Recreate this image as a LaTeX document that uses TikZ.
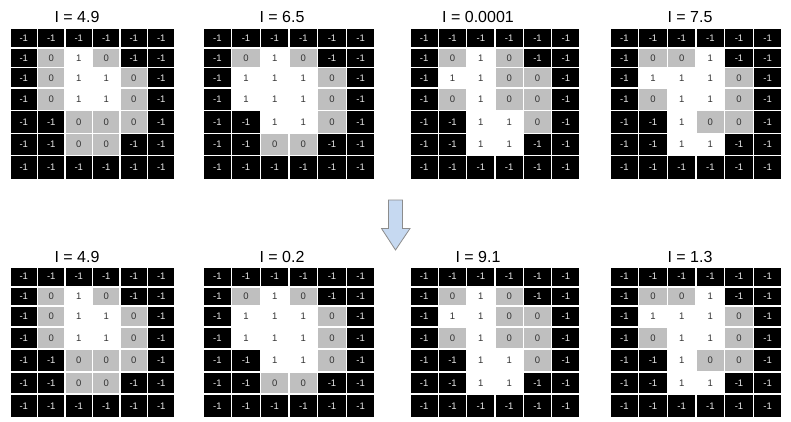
\documentclass[tikz,border=0pt]{standalone}
\usepackage{fontspec}
\setmainfont{Liberation Sans}

\definecolor{cellgray}{HTML}{BFBFBF}
\definecolor{celltext}{HTML}{333333}
\definecolor{negtext}{HTML}{E8E8E8}
\definecolor{arrowfill}{HTML}{C6D9F1}
\definecolor{arrowline}{HTML}{8C8C8C}

\tikzset{
  cell/.style={inner sep=0pt, outer sep=0pt, font=\fontsize{9.5}{11}\selectfont},
  gridtitle/.style={font=\fontsize{16}{19}\selectfont, text=black, inner sep=0pt},
  blockarrow/.style={fill=arrowfill, draw=arrowline, line width=0.8pt, line join=miter},
}

% lower edges of the seven rows, measured from the top of a grid
\def\rowedges{{0,20,39.5,60,82.5,105.5,127.5,151.5}}

% \valuegrid{name}{left}{top}{width}{rows}
\newcommand\valuegrid[5]{%
  \foreach \rowvals [count=\r] in #5 {%
    \foreach \v [count=\c] in \rowvals {%
      \pgfmathsetmacro\ytop{#3+\rowedges[\r-1]}%
      \pgfmathsetmacro\ybot{#3+\rowedges[\r]}%
      \pgfmathsetmacro\xl{#2+(\c-1)*#4/6}%
      \pgfmathsetmacro\xr{#2+\c*#4/6}%
      \pgfmathsetmacro\cw{\xr-\xl-1.6}%
      \pgfmathsetmacro\ch{\ybot-\ytop-1.6}%
      \ifnum\v<0 \def\cf{black}\def\tc{negtext}%
      \else\ifnum\v=0 \def\cf{cellgray}\def\tc{celltext}%
      \else\def\cf{white}\def\tc{celltext}\fi\fi
      \node[cell, fill=\cf, text=\tc, minimum width=\cw pt, minimum height=\ch pt]
        (#1-\r-\c) at ({(\xl+\xr)/2},{(\ytop+\ybot)/2}) {\v};
    }%
  }%
}

% cell values of the four configurations
\def\cfgA{{-1,-1,-1,-1,-1,-1},{-1,0,1,0,-1,-1},{-1,0,1,1,0,-1},{-1,0,1,1,0,-1},{-1,-1,0,0,0,-1},{-1,-1,0,0,-1,-1},{-1,-1,-1,-1,-1,-1}}
\def\cfgB{{-1,-1,-1,-1,-1,-1},{-1,0,1,0,-1,-1},{-1,1,1,1,0,-1},{-1,1,1,1,0,-1},{-1,-1,1,1,0,-1},{-1,-1,0,0,-1,-1},{-1,-1,-1,-1,-1,-1}}
\def\cfgC{{-1,-1,-1,-1,-1,-1},{-1,0,1,0,-1,-1},{-1,1,1,0,0,-1},{-1,0,1,0,0,-1},{-1,-1,1,1,0,-1},{-1,-1,1,1,-1,-1},{-1,-1,-1,-1,-1,-1}}
\def\cfgD{{-1,-1,-1,-1,-1,-1},{-1,0,0,1,-1,-1},{-1,1,1,1,0,-1},{-1,0,1,1,0,-1},{-1,-1,1,0,0,-1},{-1,-1,1,1,-1,-1},{-1,-1,-1,-1,-1,-1}}

\begin{document}
\begin{tikzpicture}[x=1pt, y=-1pt]
  \fill[white] (0,0) rectangle (791,421);
  \useasboundingbox (0,0) rectangle (791,421);

  % upper row
  \node[gridtitle] (t1) at (77,17) {I = 4.9};
  \node[gridtitle] (t2) at (282,17) {I = 6.5};
  \node[gridtitle] (t3) at (478,17) {I = 0.0001};
  \node[gridtitle] (t4) at (690,17) {I = 7.5};
  \valuegrid{a}{10}{28}{165}{\cfgA}
  \valuegrid{b}{203}{28}{172}{\cfgB}
  \valuegrid{c}{410}{28}{170}{\cfgC}
  \valuegrid{d}{610}{28}{172}{\cfgD}

  % down arrow
  \draw[blockarrow] (388.5,200) -- (402.5,200) -- (402.5,228.5) -- (410,228.5)
    -- (395.5,250) -- (381.5,228.5) -- (388.5,228.5) -- cycle;

  % lower row
  \node[gridtitle] (t5) at (77,256.5) {I = 4.9};
  \node[gridtitle] (t6) at (282,256.5) {I = 0.2};
  \node[gridtitle] (t7) at (478,256.5) {I = 9.1};
  \node[gridtitle] (t8) at (690,256.5) {I = 1.3};
  \valuegrid{e}{10}{266.7}{165}{\cfgA}
  \valuegrid{f}{203}{266.7}{172}{\cfgB}
  \valuegrid{g}{410}{266.7}{170}{\cfgC}
  \valuegrid{h}{610}{266.7}{172}{\cfgD}
\end{tikzpicture}
\end{document}
